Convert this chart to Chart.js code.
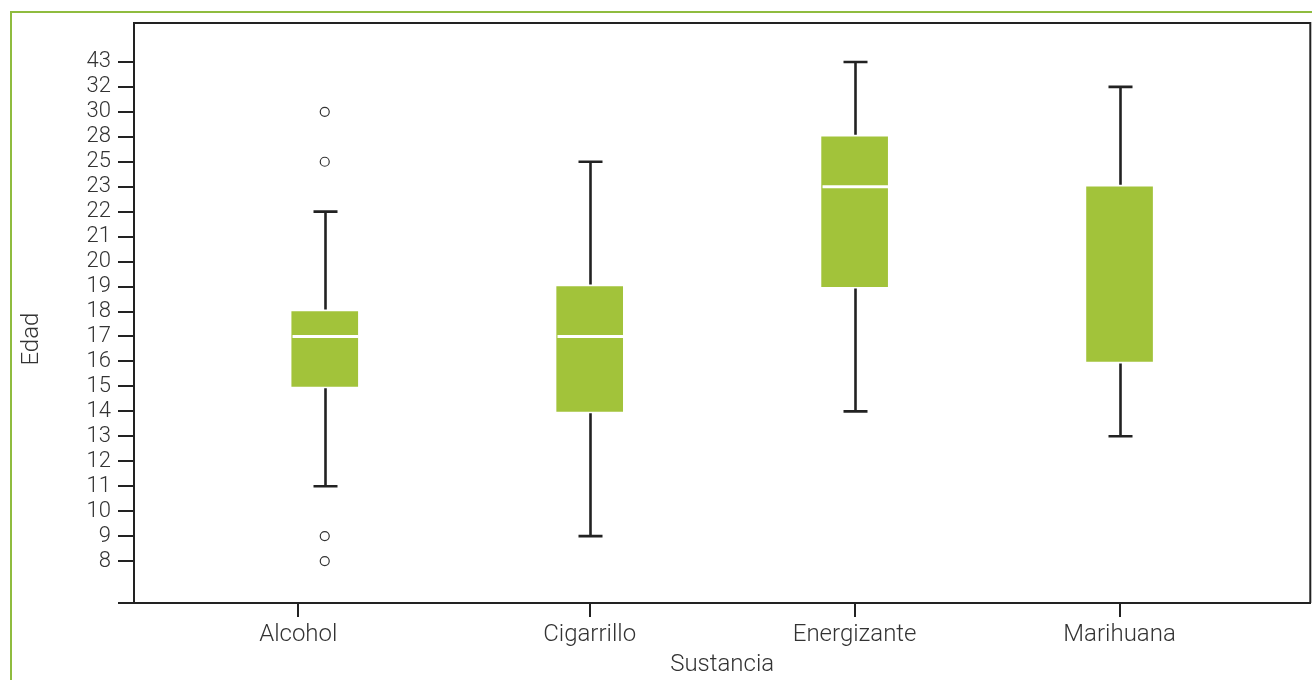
<!DOCTYPE html>
<html>
<head>
<meta charset="utf-8">
<title>Edad por sustancia</title>
<script src="https://cdn.jsdelivr.net/npm/chart.js@4.4.7/dist/chart.umd.min.js"></script>
<style>
  html, body { margin: 0; padding: 0; background: #fff; overflow: hidden; }
  .frame {
    position: absolute; left: 10px; top: 11px; width: 1400px; height: 800px;
    border-left: 2px solid #8fbc3f; border-top: 2px solid #8fbc3f;
  }
  .chart-area { position: absolute; left: 0; top: 0; width: 1316px; height: 680px; }
</style>
</head>
<body>
<div class="frame"></div>
<div class="chart-area"><canvas id="boxChart"></canvas></div>
<script>
// ===== データ =====
const categories = ['Alcohol', 'Cigarrillo', 'Energizante', 'Marihuana'];
const whiskerLow = [11, 9, 14, 13];
const q1 = [15, 14, 19, 16];
const median = [17, 17, 23, 23];
const q3 = [18, 19, 28, 23];
const whiskerHigh = [22, 25, 43, 32];
const outlierCat = [0, 0, 0, 0];
const outlierAge = [30, 25, 9, 8];
// 縦軸は等間隔の順序軸
const ageTicks = [8, 9, 10, 11, 12, 13, 14, 15, 16, 17, 18, 19, 20, 21, 22, 23, 25, 28, 30, 32, 43];
// 横軸の目盛り位置（Alcohol の目盛りは原図で少し左にずれている）
const xTickPos = [-0.1, 1, 2, 3];

const idx = v => ageTicks.indexOf(v);
const INK = '#222';
const BOX = '#a2c33a';
const FAMILY = 'Roboto, "Open Sans", sans-serif';
const FONT_Y = { family: FAMILY, size: 22, weight: 300 };
const FONT_X = { family: FAMILY, size: 24, weight: 300 };

// ===== ひげ・中央値・枠線・縦軸タイトル =====
const boxPlotPlugin = {
  id: 'boxPlotParts',
  afterDatasetsDraw(chart) {
    const { ctx, scales: { x, y } } = chart;
    const half = 33, cap = 12, gap = 2;
    ctx.save();
    categories.forEach((c, i) => {
      const px = Math.round(x.getPixelForValue(i)) + 0.5;
      const yLow = y.getPixelForValue(idx(whiskerLow[i]));
      const yQ1 = y.getPixelForValue(idx(q1[i]));
      const yMed = y.getPixelForValue(idx(median[i]));
      const yQ3 = y.getPixelForValue(idx(q3[i]));
      const yHigh = y.getPixelForValue(idx(whiskerHigh[i]));

      ctx.strokeStyle = INK;
      ctx.lineWidth = 2.6;
      ctx.beginPath();
      ctx.moveTo(px, yQ1 + gap); ctx.lineTo(px, yLow);
      ctx.moveTo(px - cap, yLow); ctx.lineTo(px + cap, yLow);
      ctx.moveTo(px, yQ3 - gap); ctx.lineTo(px, yHigh);
      ctx.moveTo(px - cap, yHigh); ctx.lineTo(px + cap, yHigh);
      ctx.stroke();

      if (median[i] !== q3[i]) {
        ctx.strokeStyle = '#fff';
        ctx.lineWidth = 3;
        ctx.beginPath();
        ctx.moveTo(px - half, yMed); ctx.lineTo(px + half, yMed);
        ctx.stroke();
      }
    });
    ctx.restore();
  },
  afterDraw(chart) {
    const { ctx, chartArea: a } = chart;
    ctx.save();
    ctx.strokeStyle = INK;
    ctx.lineWidth = 2;
    ctx.beginPath();
    ctx.moveTo(a.left, a.top); ctx.lineTo(a.right, a.top); ctx.lineTo(a.right, a.bottom);
    ctx.moveTo(a.left - 16, a.bottom); ctx.lineTo(a.left, a.bottom);
    ctx.stroke();

    // 縦軸タイトル（原図では少し下寄り）
    ctx.translate(32, a.top + (a.bottom - a.top) * 0.545);
    ctx.rotate(-Math.PI / 2);
    ctx.fillStyle = '#333';
    ctx.font = '300 24px ' + FAMILY;
    ctx.textAlign = 'center';
    ctx.textBaseline = 'middle';
    ctx.fillText('Edad', 0, 0);
    ctx.restore();
  }
};

function createBoxChart() {
  const ctx = document.getElementById('boxChart').getContext('2d');
  new Chart(ctx, {
    type: 'bar',
    data: {
      datasets: [
        {
          label: 'Caja',
          data: categories.map((c, i) => ({ x: i, y: [idx(q1[i]), idx(q3[i])] })),
          backgroundColor: BOX,
          borderWidth: 0,
          barThickness: 66,
          order: 2
        },
        {
          type: 'scatter',
          label: 'Atípicos',
          data: outlierAge.map((v, i) => ({ x: outlierCat[i], y: idx(v) })),
          pointStyle: 'circle',
          pointRadius: 4.5,
          pointBackgroundColor: '#fff',
          pointBorderColor: '#333',
          pointBorderWidth: 1.2,
          order: 1
        }
      ]
    },
    options: {
      responsive: true,
      maintainAspectRatio: false,
      animation: false,
      layout: { padding: { left: 20, top: 23, right: 0, bottom: 1 } },
      plugins: {
        legend: { display: false },
        tooltip: { enabled: false }
      },
      scales: {
        x: {
          type: 'linear',
          min: -0.72,
          max: 3.72,
          offset: false,
          afterBuildTicks: axis => { axis.ticks = xTickPos.map(v => ({ value: v })); },
          afterFit: axis => { axis.height = 76; },
          grid: { offset: false, drawOnChartArea: false, drawTicks: true, tickLength: 14, tickColor: INK, tickWidth: 2, lineWidth: 2 },
          border: { display: true, color: INK, width: 2 },
          ticks: {
            color: '#333',
            font: FONT_X,
            padding: 4,
            maxRotation: 0,
            autoSkip: false,
            callback: v => categories[xTickPos.indexOf(v)]
          },
          title: {
            display: true,
            text: 'Sustancia',
            color: '#333',
            font: FONT_X,
            padding: { top: 0, bottom: 0 }
          }
        },
        y: {
          type: 'linear',
          min: -1.68,
          max: 21.56,
          afterBuildTicks: axis => { axis.ticks = ageTicks.map((v, i) => ({ value: i })); },
          afterFit: axis => { axis.width = 114; },
          grid: { drawOnChartArea: false, drawTicks: true, tickLength: 16, tickColor: INK, tickWidth: 2, lineWidth: 2 },
          border: { display: true, color: INK, width: 2 },
          ticks: {
            color: '#333',
            font: FONT_Y,
            padding: 7,
            autoSkip: false,
            callback: v => ageTicks[v]
          },
          title: { display: false }
        }
      }
    },
    plugins: [boxPlotPlugin]
  });
}

document.addEventListener('DOMContentLoaded', () => {
  createBoxChart();
});
</script>
</body>
</html>
